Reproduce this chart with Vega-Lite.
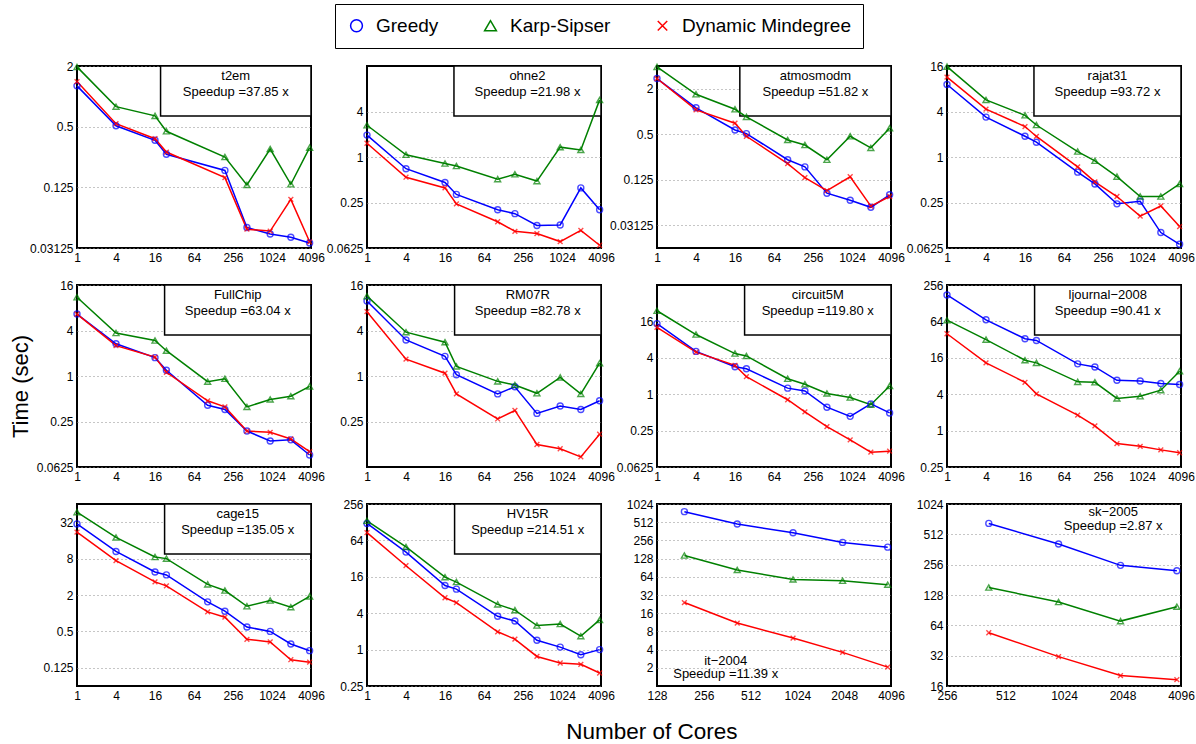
{
"$schema": "https://vega.github.io/schema/vega-lite/v6.json",
"background": "white",
"padding": {"left": 8, "top": 3, "right": 4, "bottom": 4},
"title": {"text": "Number of Cores", "orient": "bottom", "fontSize": 22.5, "fontWeight": "normal", "font": "Liberation Sans", "color": "black", "offset": 19, "anchor": "middle", "dx": 50},
"datasets": {
"ann": [
{"p": "t2em", "label": "t2em\nSpeedup =37.85 x"},
{"p": "ohne2", "label": "ohne2\nSpeedup =21.98 x"},
{"p": "atmosmodm", "label": "atmosmodm\nSpeedup =51.82 x"},
{"p": "rajat31", "label": "rajat31\nSpeedup =93.72 x"},
{"p": "FullChip", "label": "FullChip\nSpeedup =63.04 x"},
{"p": "RM07R", "label": "RM07R\nSpeedup =82.78 x"},
{"p": "circuit5M", "label": "circuit5M\nSpeedup =119.80 x"},
{"p": "ljournal−2008", "label": "ljournal−2008\nSpeedup =90.41 x"},
{"p": "cage15", "label": "cage15\nSpeedup =135.05 x"},
{"p": "HV15R", "label": "HV15R\nSpeedup =214.51 x"},
{"p": "it−2004", "label": "it−2004\nSpeedup =11.39 x"},
{"p": "sk−2005", "label": "sk−2005\nSpeedup =2.87 x"}
],
"t": [
{"p":"t2em","s":"Greedy","c":1,"t":1.27},{"p":"t2em","s":"Greedy","c":4,"t":0.51},{"p":"t2em","s":"Greedy","c":16,"t":0.366},{"p":"t2em","s":"Greedy","c":24,"t":0.266},{"p":"t2em","s":"Greedy","c":192,"t":0.184},{"p":"t2em","s":"Greedy","c":420,"t":0.05},{"p":"t2em","s":"Greedy","c":960,"t":0.043},{"p":"t2em","s":"Greedy","c":2000,"t":0.04},{"p":"t2em","s":"Greedy","c":3900,"t":0.035},
{"p":"t2em","s":"Karp-Sipser","c":1,"t":1.96},{"p":"t2em","s":"Karp-Sipser","c":4,"t":0.79},{"p":"t2em","s":"Karp-Sipser","c":16,"t":0.64},{"p":"t2em","s":"Karp-Sipser","c":24,"t":0.45},{"p":"t2em","s":"Karp-Sipser","c":192,"t":0.25},{"p":"t2em","s":"Karp-Sipser","c":420,"t":0.132},{"p":"t2em","s":"Karp-Sipser","c":960,"t":0.3},{"p":"t2em","s":"Karp-Sipser","c":2000,"t":0.134},{"p":"t2em","s":"Karp-Sipser","c":3900,"t":0.31},
{"p":"t2em","s":"Dynamic Mindegree","c":1,"t":1.4},{"p":"t2em","s":"Dynamic Mindegree","c":4,"t":0.535},{"p":"t2em","s":"Dynamic Mindegree","c":16,"t":0.38},{"p":"t2em","s":"Dynamic Mindegree","c":24,"t":0.28},{"p":"t2em","s":"Dynamic Mindegree","c":192,"t":0.156},{"p":"t2em","s":"Dynamic Mindegree","c":420,"t":0.048},{"p":"t2em","s":"Dynamic Mindegree","c":960,"t":0.046},{"p":"t2em","s":"Dynamic Mindegree","c":2000,"t":0.095},{"p":"t2em","s":"Dynamic Mindegree","c":3900,"t":0.036},

{"p":"ohne2","s":"Greedy","c":1,"t":1.95},{"p":"ohne2","s":"Greedy","c":4,"t":0.7},{"p":"ohne2","s":"Greedy","c":16,"t":0.46},{"p":"ohne2","s":"Greedy","c":24,"t":0.32},{"p":"ohne2","s":"Greedy","c":104,"t":0.2},{"p":"ohne2","s":"Greedy","c":192,"t":0.178},{"p":"ohne2","s":"Greedy","c":420,"t":0.124},{"p":"ohne2","s":"Greedy","c":960,"t":0.126},{"p":"ohne2","s":"Greedy","c":2000,"t":0.39},{"p":"ohne2","s":"Greedy","c":3900,"t":0.2},
{"p":"ohne2","s":"Karp-Sipser","c":1,"t":2.63},{"p":"ohne2","s":"Karp-Sipser","c":4,"t":1.07},{"p":"ohne2","s":"Karp-Sipser","c":16,"t":0.82},{"p":"ohne2","s":"Karp-Sipser","c":24,"t":0.76},{"p":"ohne2","s":"Karp-Sipser","c":104,"t":0.51},{"p":"ohne2","s":"Karp-Sipser","c":192,"t":0.59},{"p":"ohne2","s":"Karp-Sipser","c":420,"t":0.48},{"p":"ohne2","s":"Karp-Sipser","c":960,"t":1.35},{"p":"ohne2","s":"Karp-Sipser","c":2000,"t":1.24},{"p":"ohne2","s":"Karp-Sipser","c":3900,"t":5.7},
{"p":"ohne2","s":"Dynamic Mindegree","c":1,"t":1.52},{"p":"ohne2","s":"Dynamic Mindegree","c":4,"t":0.54},{"p":"ohne2","s":"Dynamic Mindegree","c":16,"t":0.39},{"p":"ohne2","s":"Dynamic Mindegree","c":24,"t":0.24},{"p":"ohne2","s":"Dynamic Mindegree","c":104,"t":0.139},{"p":"ohne2","s":"Dynamic Mindegree","c":192,"t":0.104},{"p":"ohne2","s":"Dynamic Mindegree","c":420,"t":0.097},{"p":"ohne2","s":"Dynamic Mindegree","c":960,"t":0.076},{"p":"ohne2","s":"Dynamic Mindegree","c":2000,"t":0.107},{"p":"ohne2","s":"Dynamic Mindegree","c":3900,"t":0.068},

{"p":"atmosmodm","s":"Greedy","c":1,"t":2.73},{"p":"atmosmodm","s":"Greedy","c":4,"t":1.12},{"p":"atmosmodm","s":"Greedy","c":16,"t":0.57},{"p":"atmosmodm","s":"Greedy","c":24,"t":0.51},{"p":"atmosmodm","s":"Greedy","c":104,"t":0.23},{"p":"atmosmodm","s":"Greedy","c":192,"t":0.185},{"p":"atmosmodm","s":"Greedy","c":420,"t":0.083},{"p":"atmosmodm","s":"Greedy","c":960,"t":0.067},{"p":"atmosmodm","s":"Greedy","c":2000,"t":0.054},{"p":"atmosmodm","s":"Greedy","c":3900,"t":0.079},
{"p":"atmosmodm","s":"Karp-Sipser","c":1,"t":3.9},{"p":"atmosmodm","s":"Karp-Sipser","c":4,"t":1.69},{"p":"atmosmodm","s":"Karp-Sipser","c":16,"t":1.07},{"p":"atmosmodm","s":"Karp-Sipser","c":24,"t":0.85},{"p":"atmosmodm","s":"Karp-Sipser","c":104,"t":0.42},{"p":"atmosmodm","s":"Karp-Sipser","c":192,"t":0.36},{"p":"atmosmodm","s":"Karp-Sipser","c":420,"t":0.23},{"p":"atmosmodm","s":"Karp-Sipser","c":960,"t":0.47},{"p":"atmosmodm","s":"Karp-Sipser","c":2000,"t":0.33},{"p":"atmosmodm","s":"Karp-Sipser","c":3900,"t":0.6},
{"p":"atmosmodm","s":"Dynamic Mindegree","c":1,"t":2.73},{"p":"atmosmodm","s":"Dynamic Mindegree","c":4,"t":1.05},{"p":"atmosmodm","s":"Dynamic Mindegree","c":16,"t":0.7},{"p":"atmosmodm","s":"Dynamic Mindegree","c":24,"t":0.47},{"p":"atmosmodm","s":"Dynamic Mindegree","c":104,"t":0.204},{"p":"atmosmodm","s":"Dynamic Mindegree","c":192,"t":0.133},{"p":"atmosmodm","s":"Dynamic Mindegree","c":420,"t":0.09},{"p":"atmosmodm","s":"Dynamic Mindegree","c":960,"t":0.137},{"p":"atmosmodm","s":"Dynamic Mindegree","c":2000,"t":0.056},{"p":"atmosmodm","s":"Dynamic Mindegree","c":3900,"t":0.075},

{"p":"rajat31","s":"Greedy","c":1,"t":9.1},{"p":"rajat31","s":"Greedy","c":4,"t":3.37},{"p":"rajat31","s":"Greedy","c":16,"t":1.88},{"p":"rajat31","s":"Greedy","c":24,"t":1.57},{"p":"rajat31","s":"Greedy","c":104,"t":0.63},{"p":"rajat31","s":"Greedy","c":192,"t":0.44},{"p":"rajat31","s":"Greedy","c":420,"t":0.24},{"p":"rajat31","s":"Greedy","c":960,"t":0.26},{"p":"rajat31","s":"Greedy","c":2000,"t":0.1},{"p":"rajat31","s":"Greedy","c":3900,"t":0.07},
{"p":"rajat31","s":"Karp-Sipser","c":1,"t":15.7},{"p":"rajat31","s":"Karp-Sipser","c":4,"t":5.7},{"p":"rajat31","s":"Karp-Sipser","c":16,"t":3.56},{"p":"rajat31","s":"Karp-Sipser","c":24,"t":2.65},{"p":"rajat31","s":"Karp-Sipser","c":104,"t":1.18},{"p":"rajat31","s":"Karp-Sipser","c":192,"t":0.89},{"p":"rajat31","s":"Karp-Sipser","c":420,"t":0.55},{"p":"rajat31","s":"Karp-Sipser","c":960,"t":0.3},{"p":"rajat31","s":"Karp-Sipser","c":2000,"t":0.3},{"p":"rajat31","s":"Karp-Sipser","c":3900,"t":0.44},
{"p":"rajat31","s":"Dynamic Mindegree","c":1,"t":11.4},{"p":"rajat31","s":"Dynamic Mindegree","c":4,"t":4.3},{"p":"rajat31","s":"Dynamic Mindegree","c":16,"t":2.53},{"p":"rajat31","s":"Dynamic Mindegree","c":24,"t":1.87},{"p":"rajat31","s":"Dynamic Mindegree","c":104,"t":0.74},{"p":"rajat31","s":"Dynamic Mindegree","c":192,"t":0.47},{"p":"rajat31","s":"Dynamic Mindegree","c":420,"t":0.3},{"p":"rajat31","s":"Dynamic Mindegree","c":960,"t":0.165},{"p":"rajat31","s":"Dynamic Mindegree","c":2000,"t":0.225},{"p":"rajat31","s":"Dynamic Mindegree","c":3900,"t":0.12},

{"p":"FullChip","s":"Greedy","c":1,"t":6.6},{"p":"FullChip","s":"Greedy","c":4,"t":2.67},{"p":"FullChip","s":"Greedy","c":16,"t":1.75},{"p":"FullChip","s":"Greedy","c":24,"t":1.19},{"p":"FullChip","s":"Greedy","c":104,"t":0.41},{"p":"FullChip","s":"Greedy","c":192,"t":0.36},{"p":"FullChip","s":"Greedy","c":420,"t":0.187},{"p":"FullChip","s":"Greedy","c":960,"t":0.138},{"p":"FullChip","s":"Greedy","c":2000,"t":0.143},{"p":"FullChip","s":"Greedy","c":3900,"t":0.09},
{"p":"FullChip","s":"Karp-Sipser","c":1,"t":11},{"p":"FullChip","s":"Karp-Sipser","c":4,"t":3.7},{"p":"FullChip","s":"Karp-Sipser","c":16,"t":2.95},{"p":"FullChip","s":"Karp-Sipser","c":24,"t":2.16},{"p":"FullChip","s":"Karp-Sipser","c":104,"t":0.84},{"p":"FullChip","s":"Karp-Sipser","c":192,"t":0.92},{"p":"FullChip","s":"Karp-Sipser","c":420,"t":0.39},{"p":"FullChip","s":"Karp-Sipser","c":960,"t":0.49},{"p":"FullChip","s":"Karp-Sipser","c":2000,"t":0.54},{"p":"FullChip","s":"Karp-Sipser","c":3900,"t":0.73},
{"p":"FullChip","s":"Dynamic Mindegree","c":1,"t":6.6},{"p":"FullChip","s":"Dynamic Mindegree","c":4,"t":2.52},{"p":"FullChip","s":"Dynamic Mindegree","c":16,"t":1.78},{"p":"FullChip","s":"Dynamic Mindegree","c":24,"t":1.12},{"p":"FullChip","s":"Dynamic Mindegree","c":104,"t":0.47},{"p":"FullChip","s":"Dynamic Mindegree","c":192,"t":0.39},{"p":"FullChip","s":"Dynamic Mindegree","c":420,"t":0.187},{"p":"FullChip","s":"Dynamic Mindegree","c":960,"t":0.18},{"p":"FullChip","s":"Dynamic Mindegree","c":2000,"t":0.147},{"p":"FullChip","s":"Dynamic Mindegree","c":3900,"t":0.1},

{"p":"RM07R","s":"Greedy","c":1,"t":9.8},{"p":"RM07R","s":"Greedy","c":4,"t":3.0},{"p":"RM07R","s":"Greedy","c":16,"t":1.82},{"p":"RM07R","s":"Greedy","c":24,"t":1.04},{"p":"RM07R","s":"Greedy","c":104,"t":0.58},{"p":"RM07R","s":"Greedy","c":192,"t":0.72},{"p":"RM07R","s":"Greedy","c":420,"t":0.32},{"p":"RM07R","s":"Greedy","c":960,"t":0.4},{"p":"RM07R","s":"Greedy","c":2000,"t":0.36},{"p":"RM07R","s":"Greedy","c":3900,"t":0.47},
{"p":"RM07R","s":"Karp-Sipser","c":1,"t":11.4},{"p":"RM07R","s":"Karp-Sipser","c":4,"t":3.8},{"p":"RM07R","s":"Karp-Sipser","c":16,"t":2.8},{"p":"RM07R","s":"Karp-Sipser","c":24,"t":1.34},{"p":"RM07R","s":"Karp-Sipser","c":104,"t":0.85},{"p":"RM07R","s":"Karp-Sipser","c":192,"t":0.76},{"p":"RM07R","s":"Karp-Sipser","c":420,"t":0.59},{"p":"RM07R","s":"Karp-Sipser","c":960,"t":0.96},{"p":"RM07R","s":"Karp-Sipser","c":2000,"t":0.58},{"p":"RM07R","s":"Karp-Sipser","c":3900,"t":1.48},
{"p":"RM07R","s":"Dynamic Mindegree","c":1,"t":7.1},{"p":"RM07R","s":"Dynamic Mindegree","c":4,"t":1.67},{"p":"RM07R","s":"Dynamic Mindegree","c":16,"t":1.09},{"p":"RM07R","s":"Dynamic Mindegree","c":24,"t":0.58},{"p":"RM07R","s":"Dynamic Mindegree","c":104,"t":0.27},{"p":"RM07R","s":"Dynamic Mindegree","c":192,"t":0.35},{"p":"RM07R","s":"Dynamic Mindegree","c":420,"t":0.124},{"p":"RM07R","s":"Dynamic Mindegree","c":960,"t":0.109},{"p":"RM07R","s":"Dynamic Mindegree","c":2000,"t":0.085},{"p":"RM07R","s":"Dynamic Mindegree","c":3900,"t":0.17},

{"p":"circuit5M","s":"Greedy","c":1,"t":14.7},{"p":"circuit5M","s":"Greedy","c":4,"t":5.1},{"p":"circuit5M","s":"Greedy","c":16,"t":2.85},{"p":"circuit5M","s":"Greedy","c":24,"t":2.64},{"p":"circuit5M","s":"Greedy","c":104,"t":1.26},{"p":"circuit5M","s":"Greedy","c":192,"t":1.13},{"p":"circuit5M","s":"Greedy","c":420,"t":0.61},{"p":"circuit5M","s":"Greedy","c":960,"t":0.43},{"p":"circuit5M","s":"Greedy","c":2000,"t":0.69},{"p":"circuit5M","s":"Greedy","c":3900,"t":0.49},
{"p":"circuit5M","s":"Karp-Sipser","c":1,"t":24},{"p":"circuit5M","s":"Karp-Sipser","c":4,"t":9.7},{"p":"circuit5M","s":"Karp-Sipser","c":16,"t":4.7},{"p":"circuit5M","s":"Karp-Sipser","c":24,"t":4.3},{"p":"circuit5M","s":"Karp-Sipser","c":104,"t":1.8},{"p":"circuit5M","s":"Karp-Sipser","c":192,"t":1.46},{"p":"circuit5M","s":"Karp-Sipser","c":420,"t":1.03},{"p":"circuit5M","s":"Karp-Sipser","c":960,"t":0.88},{"p":"circuit5M","s":"Karp-Sipser","c":2000,"t":0.67},{"p":"circuit5M","s":"Karp-Sipser","c":3900,"t":1.37},
{"p":"circuit5M","s":"Dynamic Mindegree","c":1,"t":12.8},{"p":"circuit5M","s":"Dynamic Mindegree","c":4,"t":4.96},{"p":"circuit5M","s":"Dynamic Mindegree","c":16,"t":3.0},{"p":"circuit5M","s":"Dynamic Mindegree","c":24,"t":1.95},{"p":"circuit5M","s":"Dynamic Mindegree","c":104,"t":0.81},{"p":"circuit5M","s":"Dynamic Mindegree","c":192,"t":0.51},{"p":"circuit5M","s":"Dynamic Mindegree","c":420,"t":0.29},{"p":"circuit5M","s":"Dynamic Mindegree","c":960,"t":0.176},{"p":"circuit5M","s":"Dynamic Mindegree","c":2000,"t":0.11},{"p":"circuit5M","s":"Dynamic Mindegree","c":3900,"t":0.114},

{"p":"ljournal−2008","s":"Greedy","c":1,"t":175},{"p":"ljournal−2008","s":"Greedy","c":4,"t":68},{"p":"ljournal−2008","s":"Greedy","c":16,"t":33},{"p":"ljournal−2008","s":"Greedy","c":24,"t":31},{"p":"ljournal−2008","s":"Greedy","c":104,"t":12.7},{"p":"ljournal−2008","s":"Greedy","c":192,"t":11.3},{"p":"ljournal−2008","s":"Greedy","c":420,"t":6.8},{"p":"ljournal−2008","s":"Greedy","c":960,"t":6.6},{"p":"ljournal−2008","s":"Greedy","c":2000,"t":6.0},{"p":"ljournal−2008","s":"Greedy","c":3900,"t":5.8},
{"p":"ljournal−2008","s":"Karp-Sipser","c":1,"t":67},{"p":"ljournal−2008","s":"Karp-Sipser","c":4,"t":32},{"p":"ljournal−2008","s":"Karp-Sipser","c":16,"t":14.6},{"p":"ljournal−2008","s":"Karp-Sipser","c":24,"t":13.2},{"p":"ljournal−2008","s":"Karp-Sipser","c":104,"t":6.4},{"p":"ljournal−2008","s":"Karp-Sipser","c":192,"t":6.3},{"p":"ljournal−2008","s":"Karp-Sipser","c":420,"t":3.4},{"p":"ljournal−2008","s":"Karp-Sipser","c":960,"t":3.7},{"p":"ljournal−2008","s":"Karp-Sipser","c":2000,"t":4.66},{"p":"ljournal−2008","s":"Karp-Sipser","c":3900,"t":9.6},
{"p":"ljournal−2008","s":"Dynamic Mindegree","c":1,"t":40},{"p":"ljournal−2008","s":"Dynamic Mindegree","c":4,"t":13.2},{"p":"ljournal−2008","s":"Dynamic Mindegree","c":16,"t":6.3},{"p":"ljournal−2008","s":"Dynamic Mindegree","c":24,"t":4.06},{"p":"ljournal−2008","s":"Dynamic Mindegree","c":104,"t":1.8},{"p":"ljournal−2008","s":"Dynamic Mindegree","c":192,"t":1.2},{"p":"ljournal−2008","s":"Dynamic Mindegree","c":420,"t":0.61},{"p":"ljournal−2008","s":"Dynamic Mindegree","c":960,"t":0.55},{"p":"ljournal−2008","s":"Dynamic Mindegree","c":2000,"t":0.48},{"p":"ljournal−2008","s":"Dynamic Mindegree","c":3900,"t":0.43},

{"p":"cage15","s":"Greedy","c":1,"t":30},{"p":"cage15","s":"Greedy","c":4,"t":10.5},{"p":"cage15","s":"Greedy","c":16,"t":4.8},{"p":"cage15","s":"Greedy","c":24,"t":4.3},{"p":"cage15","s":"Greedy","c":104,"t":1.54},{"p":"cage15","s":"Greedy","c":192,"t":1.08},{"p":"cage15","s":"Greedy","c":420,"t":0.59},{"p":"cage15","s":"Greedy","c":960,"t":0.5},{"p":"cage15","s":"Greedy","c":2000,"t":0.31},{"p":"cage15","s":"Greedy","c":3900,"t":0.24},
{"p":"cage15","s":"Karp-Sipser","c":1,"t":47},{"p":"cage15","s":"Karp-Sipser","c":4,"t":17.9},{"p":"cage15","s":"Karp-Sipser","c":16,"t":8.5},{"p":"cage15","s":"Karp-Sipser","c":24,"t":8},{"p":"cage15","s":"Karp-Sipser","c":104,"t":3.0},{"p":"cage15","s":"Karp-Sipser","c":192,"t":2.37},{"p":"cage15","s":"Karp-Sipser","c":420,"t":1.3},{"p":"cage15","s":"Karp-Sipser","c":960,"t":1.62},{"p":"cage15","s":"Karp-Sipser","c":2000,"t":1.26},{"p":"cage15","s":"Karp-Sipser","c":3900,"t":1.9},
{"p":"cage15","s":"Dynamic Mindegree","c":1,"t":21.9},{"p":"cage15","s":"Dynamic Mindegree","c":4,"t":7.4},{"p":"cage15","s":"Dynamic Mindegree","c":16,"t":3.3},{"p":"cage15","s":"Dynamic Mindegree","c":24,"t":2.83},{"p":"cage15","s":"Dynamic Mindegree","c":104,"t":1.05},{"p":"cage15","s":"Dynamic Mindegree","c":192,"t":0.86},{"p":"cage15","s":"Dynamic Mindegree","c":420,"t":0.37},{"p":"cage15","s":"Dynamic Mindegree","c":960,"t":0.335},{"p":"cage15","s":"Dynamic Mindegree","c":2000,"t":0.17},{"p":"cage15","s":"Dynamic Mindegree","c":3900,"t":0.155},

{"p":"HV15R","s":"Greedy","c":1,"t":122},{"p":"HV15R","s":"Greedy","c":4,"t":41},{"p":"HV15R","s":"Greedy","c":16,"t":11.5},{"p":"HV15R","s":"Greedy","c":24,"t":10},{"p":"HV15R","s":"Greedy","c":104,"t":3.56},{"p":"HV15R","s":"Greedy","c":192,"t":2.97},{"p":"HV15R","s":"Greedy","c":420,"t":1.43},{"p":"HV15R","s":"Greedy","c":960,"t":1.1},{"p":"HV15R","s":"Greedy","c":2000,"t":0.82},{"p":"HV15R","s":"Greedy","c":3900,"t":1.0},
{"p":"HV15R","s":"Karp-Sipser","c":1,"t":135},{"p":"HV15R","s":"Karp-Sipser","c":4,"t":50},{"p":"HV15R","s":"Karp-Sipser","c":16,"t":15.8},{"p":"HV15R","s":"Karp-Sipser","c":24,"t":13.1},{"p":"HV15R","s":"Karp-Sipser","c":104,"t":5.6},{"p":"HV15R","s":"Karp-Sipser","c":192,"t":4.5},{"p":"HV15R","s":"Karp-Sipser","c":420,"t":2.5},{"p":"HV15R","s":"Karp-Sipser","c":960,"t":2.65},{"p":"HV15R","s":"Karp-Sipser","c":2000,"t":1.67},{"p":"HV15R","s":"Karp-Sipser","c":3900,"t":3.1},
{"p":"HV15R","s":"Dynamic Mindegree","c":1,"t":86},{"p":"HV15R","s":"Dynamic Mindegree","c":4,"t":24.4},{"p":"HV15R","s":"Dynamic Mindegree","c":16,"t":7.2},{"p":"HV15R","s":"Dynamic Mindegree","c":24,"t":6.0},{"p":"HV15R","s":"Dynamic Mindegree","c":104,"t":1.97},{"p":"HV15R","s":"Dynamic Mindegree","c":192,"t":1.49},{"p":"HV15R","s":"Dynamic Mindegree","c":420,"t":0.77},{"p":"HV15R","s":"Dynamic Mindegree","c":960,"t":0.6},{"p":"HV15R","s":"Dynamic Mindegree","c":2000,"t":0.57},{"p":"HV15R","s":"Dynamic Mindegree","c":3900,"t":0.41},

{"p":"it−2004","s":"Greedy","c":192,"t":765},{"p":"it−2004","s":"Greedy","c":420,"t":477},{"p":"it−2004","s":"Greedy","c":960,"t":343},{"p":"it−2004","s":"Greedy","c":2000,"t":237},{"p":"it−2004","s":"Greedy","c":3900,"t":198},
{"p":"it−2004","s":"Karp-Sipser","c":192,"t":144},{"p":"it−2004","s":"Karp-Sipser","c":420,"t":83},{"p":"it−2004","s":"Karp-Sipser","c":960,"t":58},{"p":"it−2004","s":"Karp-Sipser","c":2000,"t":55},{"p":"it−2004","s":"Karp-Sipser","c":3900,"t":47.5},
{"p":"it−2004","s":"Dynamic Mindegree","c":192,"t":24},{"p":"it−2004","s":"Dynamic Mindegree","c":420,"t":11},{"p":"it−2004","s":"Dynamic Mindegree","c":960,"t":6.2},{"p":"it−2004","s":"Dynamic Mindegree","c":2000,"t":3.6},{"p":"it−2004","s":"Dynamic Mindegree","c":3900,"t":2.05},

{"p":"sk−2005","s":"Greedy","c":420,"t":657},{"p":"sk−2005","s":"Greedy","c":960,"t":410},{"p":"sk−2005","s":"Greedy","c":2000,"t":252},{"p":"sk−2005","s":"Greedy","c":3900,"t":223},
{"p":"sk−2005","s":"Karp-Sipser","c":420,"t":152},{"p":"sk−2005","s":"Karp-Sipser","c":960,"t":109},{"p":"sk−2005","s":"Karp-Sipser","c":2000,"t":70.5},{"p":"sk−2005","s":"Karp-Sipser","c":3900,"t":98},
{"p":"sk−2005","s":"Dynamic Mindegree","c":420,"t":54},{"p":"sk−2005","s":"Dynamic Mindegree","c":960,"t":31.3},{"p":"sk−2005","s":"Dynamic Mindegree","c":2000,"t":20.3},{"p":"sk−2005","s":"Dynamic Mindegree","c":3900,"t":18.5}
]
},
"bounds": "flush",
"columns": 4,
"spacing": {"row": 37, "column": 56},
"concat": [
{"width": 234, "height": 182, "layer": [
 {"data": {"name": "ann"}, "transform": [{"filter": "datum.p=='t2em'"}], "mark": {"type": "rect", "fill": "white", "stroke": "black", "strokeWidth": 1.5},
  "encoding": {"x": {"datum": 19.5, "type": "quantitative", "scale": {"type": "log", "base": 2, "domain": [1, 4096], "nice": false}, "axis": {"values": [1, 4, 16, 64, 256, 1024, 4096], "title": null, "format": "~g"}}, "x2": {"datum": 4096},
   "y": {"datum": 2, "type": "quantitative", "scale": {"type": "log", "base": 2, "domain": [0.03125, 2], "nice": false}, "axis": {"values": [0.03125, 0.125, 0.5, 2], "title": null, "format": "~g"}}, "y2": {"datum": 0.637}}},
 {"data": {"name": "t"}, "transform": [{"filter": "datum.p=='t2em'"}], "mark": {"type": "line", "strokeWidth": 1.5},
  "encoding": {"x": {"field": "c", "type": "quantitative"}, "y": {"field": "t", "type": "quantitative"},
   "color": {"field": "s", "type": "nominal", "scale": {"domain": ["Greedy", "Karp-Sipser", "Dynamic Mindegree"], "range": ["#0000ff", "#008000", "#ff0000"]},
    "legend": {"orient": "none", "legendX": 258, "legendY": -62, "direction": "horizontal", "columns": 3, "title": null, "labelFontSize": 19, "labelFont": "Liberation Sans", "labelColor": "black", "labelLimit": 400, "strokeColor": "black", "fillColor": "white", "padding": 12, "columnPadding": 42, "symbolSize": 140, "symbolStrokeWidth": 1.5, "labelOffset": 10}}}},
 {"data": {"name": "t"}, "transform": [{"filter": "datum.p=='t2em'"}], "mark": {"type": "point", "filled": false, "size": 36, "strokeWidth": 1.4},
  "encoding": {"x": {"field": "c", "type": "quantitative"}, "y": {"field": "t", "type": "quantitative"},
   "color": {"field": "s", "type": "nominal", "legend": null},
   "shape": {"field": "s", "type": "nominal", "scale": {"domain": ["Greedy", "Karp-Sipser", "Dynamic Mindegree"], "range": ["circle", "triangle-up", "M-0.8,-0.8L0.8,0.8M-0.8,0.8L0.8,-0.8"]}, "legend": null}}},
 {"data": {"name": "ann"}, "transform": [{"filter": "datum.p=='t2em'"}], "mark": {"type": "text", "fontSize": 13, "lineBreak": "\n", "baseline": "top", "align": "center", "dy": 4, "lineHeight": 16, "color": "black"},
  "encoding": {"x": {"datum": 282, "type": "quantitative"}, "y": {"datum": 2, "type": "quantitative"}, "text": {"field": "label"}}}
]},
{"width": 234, "height": 182, "layer": [
 {"data": {"name": "ann"}, "transform": [{"filter": "datum.p=='ohne2'"}], "mark": {"type": "rect", "fill": "white", "stroke": "black", "strokeWidth": 1.5},
  "encoding": {"x": {"datum": 22, "type": "quantitative", "scale": {"type": "log", "base": 2, "domain": [1, 4096], "nice": false}, "axis": {"values": [1, 4, 16, 64, 256, 1024, 4096], "title": null, "format": "~g"}}, "x2": {"datum": 4096},
   "y": {"datum": 16, "type": "quantitative", "scale": {"type": "log", "base": 2, "domain": [0.0625, 16], "nice": false}, "axis": {"values": [0.0625, 0.25, 1, 4], "title": null, "format": "~g"}}, "y2": {"datum": 3.48}}},
 {"data": {"name": "t"}, "transform": [{"filter": "datum.p=='ohne2'"}], "mark": {"type": "line", "strokeWidth": 1.5},
  "encoding": {"x": {"field": "c", "type": "quantitative"}, "y": {"field": "t", "type": "quantitative"}, "color": {"field": "s", "type": "nominal", "legend": null}}},
 {"data": {"name": "t"}, "transform": [{"filter": "datum.p=='ohne2'"}], "mark": {"type": "point", "filled": false, "size": 36, "strokeWidth": 1.4},
  "encoding": {"x": {"field": "c", "type": "quantitative"}, "y": {"field": "t", "type": "quantitative"}, "color": {"field": "s", "type": "nominal", "legend": null}, "shape": {"field": "s", "type": "nominal", "legend": null}}},
 {"data": {"name": "ann"}, "transform": [{"filter": "datum.p=='ohne2'"}], "mark": {"type": "text", "fontSize": 13, "lineBreak": "\n", "baseline": "top", "align": "center", "dy": 4, "lineHeight": 16, "color": "black"},
  "encoding": {"x": {"datum": 300, "type": "quantitative"}, "y": {"datum": 16, "type": "quantitative"}, "text": {"field": "label"}}}
]},
{"width": 234, "height": 182, "layer": [
 {"data": {"name": "ann"}, "transform": [{"filter": "datum.p=='atmosmodm'"}], "mark": {"type": "rect", "fill": "white", "stroke": "black", "strokeWidth": 1.5},
  "encoding": {"x": {"datum": 19, "type": "quantitative", "scale": {"type": "log", "base": 2, "domain": [1, 4096], "nice": false}, "axis": {"values": [1, 4, 16, 64, 256, 1024, 4096], "title": null, "format": "~g"}}, "x2": {"datum": 4096},
   "y": {"datum": 4, "type": "quantitative", "scale": {"type": "log", "base": 2, "domain": [0.015625, 4], "nice": false}, "axis": {"values": [0.03125, 0.125, 0.5, 2], "title": null, "format": "~g"}}, "y2": {"datum": 0.87}}},
 {"data": {"name": "t"}, "transform": [{"filter": "datum.p=='atmosmodm'"}], "mark": {"type": "line", "strokeWidth": 1.5},
  "encoding": {"x": {"field": "c", "type": "quantitative"}, "y": {"field": "t", "type": "quantitative"}, "color": {"field": "s", "type": "nominal", "legend": null}}},
 {"data": {"name": "t"}, "transform": [{"filter": "datum.p=='atmosmodm'"}], "mark": {"type": "point", "filled": false, "size": 36, "strokeWidth": 1.4},
  "encoding": {"x": {"field": "c", "type": "quantitative"}, "y": {"field": "t", "type": "quantitative"}, "color": {"field": "s", "type": "nominal", "legend": null}, "shape": {"field": "s", "type": "nominal", "legend": null}}},
 {"data": {"name": "ann"}, "transform": [{"filter": "datum.p=='atmosmodm'"}], "mark": {"type": "text", "fontSize": 13, "lineBreak": "\n", "baseline": "top", "align": "center", "dy": 4, "lineHeight": 16, "color": "black"},
  "encoding": {"x": {"datum": 279, "type": "quantitative"}, "y": {"datum": 4, "type": "quantitative"}, "text": {"field": "label"}}}
]},
{"width": 234, "height": 182, "layer": [
 {"data": {"name": "ann"}, "transform": [{"filter": "datum.p=='rajat31'"}], "mark": {"type": "rect", "fill": "white", "stroke": "black", "strokeWidth": 1.5},
  "encoding": {"x": {"datum": 22, "type": "quantitative", "scale": {"type": "log", "base": 2, "domain": [1, 4096], "nice": false}, "axis": {"values": [1, 4, 16, 64, 256, 1024, 4096], "title": null, "format": "~g"}}, "x2": {"datum": 4096},
   "y": {"datum": 16, "type": "quantitative", "scale": {"type": "log", "base": 2, "domain": [0.0625, 16], "nice": false}, "axis": {"values": [0.0625, 0.25, 1, 4, 16], "title": null, "format": "~g"}}, "y2": {"datum": 3.48}}},
 {"data": {"name": "t"}, "transform": [{"filter": "datum.p=='rajat31'"}], "mark": {"type": "line", "strokeWidth": 1.5},
  "encoding": {"x": {"field": "c", "type": "quantitative"}, "y": {"field": "t", "type": "quantitative"}, "color": {"field": "s", "type": "nominal", "legend": null}}},
 {"data": {"name": "t"}, "transform": [{"filter": "datum.p=='rajat31'"}], "mark": {"type": "point", "filled": false, "size": 36, "strokeWidth": 1.4},
  "encoding": {"x": {"field": "c", "type": "quantitative"}, "y": {"field": "t", "type": "quantitative"}, "color": {"field": "s", "type": "nominal", "legend": null}, "shape": {"field": "s", "type": "nominal", "legend": null}}},
 {"data": {"name": "ann"}, "transform": [{"filter": "datum.p=='rajat31'"}], "mark": {"type": "text", "fontSize": 13, "lineBreak": "\n", "baseline": "top", "align": "center", "dy": 4, "lineHeight": 16, "color": "black"},
  "encoding": {"x": {"datum": 300, "type": "quantitative"}, "y": {"datum": 16, "type": "quantitative"}, "text": {"field": "label"}}}
]},
{"width": 234, "height": 182, "layer": [
 {"data": {"name": "ann"}, "transform": [{"filter": "datum.p=='FullChip'"}], "mark": {"type": "rect", "fill": "white", "stroke": "black", "strokeWidth": 1.5},
  "encoding": {"x": {"datum": 22.5, "type": "quantitative", "scale": {"type": "log", "base": 2, "domain": [1, 4096], "nice": false}, "axis": {"values": [1, 4, 16, 64, 256, 1024, 4096], "title": null, "format": "~g"}}, "x2": {"datum": 4096},
   "y": {"datum": 16, "type": "quantitative", "scale": {"type": "log", "base": 2, "domain": [0.0625, 16], "nice": false}, "axis": {"values": [0.0625, 0.25, 1, 4, 16], "title": "Time (sec)", "titleFontSize": 22, "titleFontWeight": "normal", "titleFont": "Liberation Sans", "titleColor": "black", "titlePadding": 4, "titleY": 101, "format": "~g"}}, "y2": {"datum": 3.48}}},
 {"data": {"name": "t"}, "transform": [{"filter": "datum.p=='FullChip'"}], "mark": {"type": "line", "strokeWidth": 1.5},
  "encoding": {"x": {"field": "c", "type": "quantitative"}, "y": {"field": "t", "type": "quantitative"}, "color": {"field": "s", "type": "nominal", "legend": null}}},
 {"data": {"name": "t"}, "transform": [{"filter": "datum.p=='FullChip'"}], "mark": {"type": "point", "filled": false, "size": 36, "strokeWidth": 1.4},
  "encoding": {"x": {"field": "c", "type": "quantitative"}, "y": {"field": "t", "type": "quantitative"}, "color": {"field": "s", "type": "nominal", "legend": null}, "shape": {"field": "s", "type": "nominal", "legend": null}}},
 {"data": {"name": "ann"}, "transform": [{"filter": "datum.p=='FullChip'"}], "mark": {"type": "text", "fontSize": 13, "lineBreak": "\n", "baseline": "top", "align": "center", "dy": 4, "lineHeight": 16, "color": "black"},
  "encoding": {"x": {"datum": 303, "type": "quantitative"}, "y": {"datum": 16, "type": "quantitative"}, "text": {"field": "label"}}}
]},
{"width": 234, "height": 182, "layer": [
 {"data": {"name": "ann"}, "transform": [{"filter": "datum.p=='RM07R'"}], "mark": {"type": "rect", "fill": "white", "stroke": "black", "strokeWidth": 1.5},
  "encoding": {"x": {"datum": 22.5, "type": "quantitative", "scale": {"type": "log", "base": 2, "domain": [1, 4096], "nice": false}, "axis": {"values": [1, 4, 16, 64, 256, 1024, 4096], "title": null, "format": "~g"}}, "x2": {"datum": 4096},
   "y": {"datum": 16, "type": "quantitative", "scale": {"type": "log", "base": 2, "domain": [0.0625, 16], "nice": false}, "axis": {"values": [0.25, 1, 4, 16], "title": null, "format": "~g"}}, "y2": {"datum": 3.48}}},
 {"data": {"name": "t"}, "transform": [{"filter": "datum.p=='RM07R'"}], "mark": {"type": "line", "strokeWidth": 1.5},
  "encoding": {"x": {"field": "c", "type": "quantitative"}, "y": {"field": "t", "type": "quantitative"}, "color": {"field": "s", "type": "nominal", "legend": null}}},
 {"data": {"name": "t"}, "transform": [{"filter": "datum.p=='RM07R'"}], "mark": {"type": "point", "filled": false, "size": 36, "strokeWidth": 1.4},
  "encoding": {"x": {"field": "c", "type": "quantitative"}, "y": {"field": "t", "type": "quantitative"}, "color": {"field": "s", "type": "nominal", "legend": null}, "shape": {"field": "s", "type": "nominal", "legend": null}}},
 {"data": {"name": "ann"}, "transform": [{"filter": "datum.p=='RM07R'"}], "mark": {"type": "text", "fontSize": 13, "lineBreak": "\n", "baseline": "top", "align": "center", "dy": 4, "lineHeight": 16, "color": "black"},
  "encoding": {"x": {"datum": 303, "type": "quantitative"}, "y": {"datum": 16, "type": "quantitative"}, "text": {"field": "label"}}}
]},
{"width": 234, "height": 182, "layer": [
 {"data": {"name": "ann"}, "transform": [{"filter": "datum.p=='circuit5M'"}], "mark": {"type": "rect", "fill": "white", "stroke": "black", "strokeWidth": 1.5},
  "encoding": {"x": {"datum": 22.5, "type": "quantitative", "scale": {"type": "log", "base": 2, "domain": [1, 4096], "nice": false}, "axis": {"values": [1, 4, 16, 64, 256, 1024, 4096], "title": null, "format": "~g"}}, "x2": {"datum": 4096},
   "y": {"datum": 64, "type": "quantitative", "scale": {"type": "log", "base": 2, "domain": [0.0625, 64], "nice": false}, "axis": {"values": [0.0625, 0.25, 1, 4, 16], "title": null, "format": "~g"}}, "y2": {"datum": 9.5}}},
 {"data": {"name": "t"}, "transform": [{"filter": "datum.p=='circuit5M'"}], "mark": {"type": "line", "strokeWidth": 1.5},
  "encoding": {"x": {"field": "c", "type": "quantitative"}, "y": {"field": "t", "type": "quantitative"}, "color": {"field": "s", "type": "nominal", "legend": null}}},
 {"data": {"name": "t"}, "transform": [{"filter": "datum.p=='circuit5M'"}], "mark": {"type": "point", "filled": false, "size": 36, "strokeWidth": 1.4},
  "encoding": {"x": {"field": "c", "type": "quantitative"}, "y": {"field": "t", "type": "quantitative"}, "color": {"field": "s", "type": "nominal", "legend": null}, "shape": {"field": "s", "type": "nominal", "legend": null}}},
 {"data": {"name": "ann"}, "transform": [{"filter": "datum.p=='circuit5M'"}], "mark": {"type": "text", "fontSize": 13, "lineBreak": "\n", "baseline": "top", "align": "center", "dy": 4, "lineHeight": 16, "color": "black"},
  "encoding": {"x": {"datum": 303, "type": "quantitative"}, "y": {"datum": 64, "type": "quantitative"}, "text": {"field": "label"}}}
]},
{"width": 234, "height": 182, "layer": [
 {"data": {"name": "ann"}, "transform": [{"filter": "datum.p=='ljournal−2008'"}], "mark": {"type": "rect", "fill": "white", "stroke": "black", "strokeWidth": 1.5},
  "encoding": {"x": {"datum": 22.5, "type": "quantitative", "scale": {"type": "log", "base": 2, "domain": [1, 4096], "nice": false}, "axis": {"values": [1, 4, 16, 64, 256, 1024, 4096], "title": null, "format": "~g"}}, "x2": {"datum": 4096},
   "y": {"datum": 256, "type": "quantitative", "scale": {"type": "log", "base": 2, "domain": [0.25, 256], "nice": false}, "axis": {"values": [0.25, 1, 4, 16, 64, 256], "title": null, "format": "~g"}}, "y2": {"datum": 38}}},
 {"data": {"name": "t"}, "transform": [{"filter": "datum.p=='ljournal−2008'"}], "mark": {"type": "line", "strokeWidth": 1.5},
  "encoding": {"x": {"field": "c", "type": "quantitative"}, "y": {"field": "t", "type": "quantitative"}, "color": {"field": "s", "type": "nominal", "legend": null}}},
 {"data": {"name": "t"}, "transform": [{"filter": "datum.p=='ljournal−2008'"}], "mark": {"type": "point", "filled": false, "size": 36, "strokeWidth": 1.4},
  "encoding": {"x": {"field": "c", "type": "quantitative"}, "y": {"field": "t", "type": "quantitative"}, "color": {"field": "s", "type": "nominal", "legend": null}, "shape": {"field": "s", "type": "nominal", "legend": null}}},
 {"data": {"name": "ann"}, "transform": [{"filter": "datum.p=='ljournal−2008'"}], "mark": {"type": "text", "fontSize": 13, "lineBreak": "\n", "baseline": "top", "align": "center", "dy": 4, "lineHeight": 16, "color": "black"},
  "encoding": {"x": {"datum": 303, "type": "quantitative"}, "y": {"datum": 256, "type": "quantitative"}, "text": {"field": "label"}}}
]},
{"width": 234, "height": 182, "layer": [
 {"data": {"name": "ann"}, "transform": [{"filter": "datum.p=='cage15'"}], "mark": {"type": "rect", "fill": "white", "stroke": "black", "strokeWidth": 1.5},
  "encoding": {"x": {"datum": 22.5, "type": "quantitative", "scale": {"type": "log", "base": 2, "domain": [1, 4096], "nice": false}, "axis": {"values": [1, 4, 16, 64, 256, 1024, 4096], "title": null, "format": "~g"}}, "x2": {"datum": 4096},
   "y": {"datum": 64, "type": "quantitative", "scale": {"type": "log", "base": 2, "domain": [0.0625, 64], "nice": false}, "axis": {"values": [0.125, 0.5, 2, 8, 32], "title": null, "format": "~g"}}, "y2": {"datum": 9.5}}},
 {"data": {"name": "t"}, "transform": [{"filter": "datum.p=='cage15'"}], "mark": {"type": "line", "strokeWidth": 1.5},
  "encoding": {"x": {"field": "c", "type": "quantitative"}, "y": {"field": "t", "type": "quantitative"}, "color": {"field": "s", "type": "nominal", "legend": null}}},
 {"data": {"name": "t"}, "transform": [{"filter": "datum.p=='cage15'"}], "mark": {"type": "point", "filled": false, "size": 36, "strokeWidth": 1.4},
  "encoding": {"x": {"field": "c", "type": "quantitative"}, "y": {"field": "t", "type": "quantitative"}, "color": {"field": "s", "type": "nominal", "legend": null}, "shape": {"field": "s", "type": "nominal", "legend": null}}},
 {"data": {"name": "ann"}, "transform": [{"filter": "datum.p=='cage15'"}], "mark": {"type": "text", "fontSize": 13, "lineBreak": "\n", "baseline": "top", "align": "center", "dy": 4, "lineHeight": 16, "color": "black"},
  "encoding": {"x": {"datum": 303, "type": "quantitative"}, "y": {"datum": 64, "type": "quantitative"}, "text": {"field": "label"}}}
]},
{"width": 234, "height": 182, "layer": [
 {"data": {"name": "ann"}, "transform": [{"filter": "datum.p=='HV15R'"}], "mark": {"type": "rect", "fill": "white", "stroke": "black", "strokeWidth": 1.5},
  "encoding": {"x": {"datum": 22.5, "type": "quantitative", "scale": {"type": "log", "base": 2, "domain": [1, 4096], "nice": false}, "axis": {"values": [1, 4, 16, 64, 256, 1024, 4096], "title": null, "format": "~g"}}, "x2": {"datum": 4096},
   "y": {"datum": 256, "type": "quantitative", "scale": {"type": "log", "base": 2, "domain": [0.25, 256], "nice": false}, "axis": {"values": [0.25, 1, 4, 16, 64, 256], "title": null, "format": "~g"}}, "y2": {"datum": 38}}},
 {"data": {"name": "t"}, "transform": [{"filter": "datum.p=='HV15R'"}], "mark": {"type": "line", "strokeWidth": 1.5},
  "encoding": {"x": {"field": "c", "type": "quantitative"}, "y": {"field": "t", "type": "quantitative"}, "color": {"field": "s", "type": "nominal", "legend": null}}},
 {"data": {"name": "t"}, "transform": [{"filter": "datum.p=='HV15R'"}], "mark": {"type": "point", "filled": false, "size": 36, "strokeWidth": 1.4},
  "encoding": {"x": {"field": "c", "type": "quantitative"}, "y": {"field": "t", "type": "quantitative"}, "color": {"field": "s", "type": "nominal", "legend": null}, "shape": {"field": "s", "type": "nominal", "legend": null}}},
 {"data": {"name": "ann"}, "transform": [{"filter": "datum.p=='HV15R'"}], "mark": {"type": "text", "fontSize": 13, "lineBreak": "\n", "baseline": "top", "align": "center", "dy": 4, "lineHeight": 16, "color": "black"},
  "encoding": {"x": {"datum": 303, "type": "quantitative"}, "y": {"datum": 256, "type": "quantitative"}, "text": {"field": "label"}}}
]},
{"width": 234, "height": 182, "layer": [
 {"data": {"name": "t"}, "transform": [{"filter": "datum.p=='it−2004'"}], "mark": {"type": "line", "strokeWidth": 1.5},
  "encoding": {"x": {"field": "c", "type": "quantitative", "scale": {"type": "log", "base": 2, "domain": [128, 4096], "nice": false}, "axis": {"values": [128, 256, 512, 1024, 2048, 4096], "title": null, "format": "~g"}},
   "y": {"field": "t", "type": "quantitative", "scale": {"type": "log", "base": 2, "domain": [1, 1024], "nice": false}, "axis": {"values": [2, 4, 8, 16, 32, 64, 128, 256, 512, 1024], "title": null, "format": "~g"}},
   "color": {"field": "s", "type": "nominal", "legend": null}}},
 {"data": {"name": "t"}, "transform": [{"filter": "datum.p=='it−2004'"}], "mark": {"type": "point", "filled": false, "size": 36, "strokeWidth": 1.4},
  "encoding": {"x": {"field": "c", "type": "quantitative"}, "y": {"field": "t", "type": "quantitative"}, "color": {"field": "s", "type": "nominal", "legend": null}, "shape": {"field": "s", "type": "nominal", "legend": null}}},
 {"data": {"name": "ann"}, "transform": [{"filter": "datum.p=='it−2004'"}], "mark": {"type": "text", "fontSize": 13, "lineBreak": "\n", "baseline": "middle", "align": "center", "lineHeight": 13, "color": "black"},
  "encoding": {"x": {"datum": 354, "type": "quantitative"}, "y": {"datum": 2.56, "type": "quantitative"}, "text": {"field": "label"}}}
]},
{"width": 234, "height": 182, "layer": [
 {"data": {"name": "t"}, "transform": [{"filter": "datum.p=='sk−2005'"}], "mark": {"type": "line", "strokeWidth": 1.5},
  "encoding": {"x": {"field": "c", "type": "quantitative", "scale": {"type": "log", "base": 2, "domain": [256, 4096], "nice": false}, "axis": {"values": [256, 512, 1024, 2048, 4096], "title": null, "format": "~g"}},
   "y": {"field": "t", "type": "quantitative", "scale": {"type": "log", "base": 2, "domain": [16, 1024], "nice": false}, "axis": {"values": [16, 32, 64, 128, 256, 512, 1024], "title": null, "format": "~g"}},
   "color": {"field": "s", "type": "nominal", "legend": null}}},
 {"data": {"name": "t"}, "transform": [{"filter": "datum.p=='sk−2005'"}], "mark": {"type": "point", "filled": false, "size": 36, "strokeWidth": 1.4},
  "encoding": {"x": {"field": "c", "type": "quantitative"}, "y": {"field": "t", "type": "quantitative"}, "color": {"field": "s", "type": "nominal", "legend": null}, "shape": {"field": "s", "type": "nominal", "legend": null}}},
 {"data": {"name": "ann"}, "transform": [{"filter": "datum.p=='sk−2005'"}], "mark": {"type": "text", "fontSize": 13, "lineBreak": "\n", "baseline": "middle", "align": "center", "lineHeight": 14, "color": "black"},
  "encoding": {"x": {"datum": 1833, "type": "quantitative"}, "y": {"datum": 859, "type": "quantitative"}, "text": {"field": "label"}}}
]}
],
"resolve": {"scale": {"color": "shared", "shape": "shared"}},
"config": {
 "font": "Liberation Sans",
 "view": {"stroke": "black", "strokeWidth": 2},
 "axis": {"domain": false, "ticks": false, "labelFontSize": 12, "labelColor": "black", "labelPadding": 4, "grid": false, "labelOverlap": false, "labelBound": false, "labelFlush": false, "labelFont": "Liberation Sans"},
 "axisY": {"grid": true, "gridDash": [1, 3], "gridColor": "#8c8c8c", "gridWidth": 1}
}
}
